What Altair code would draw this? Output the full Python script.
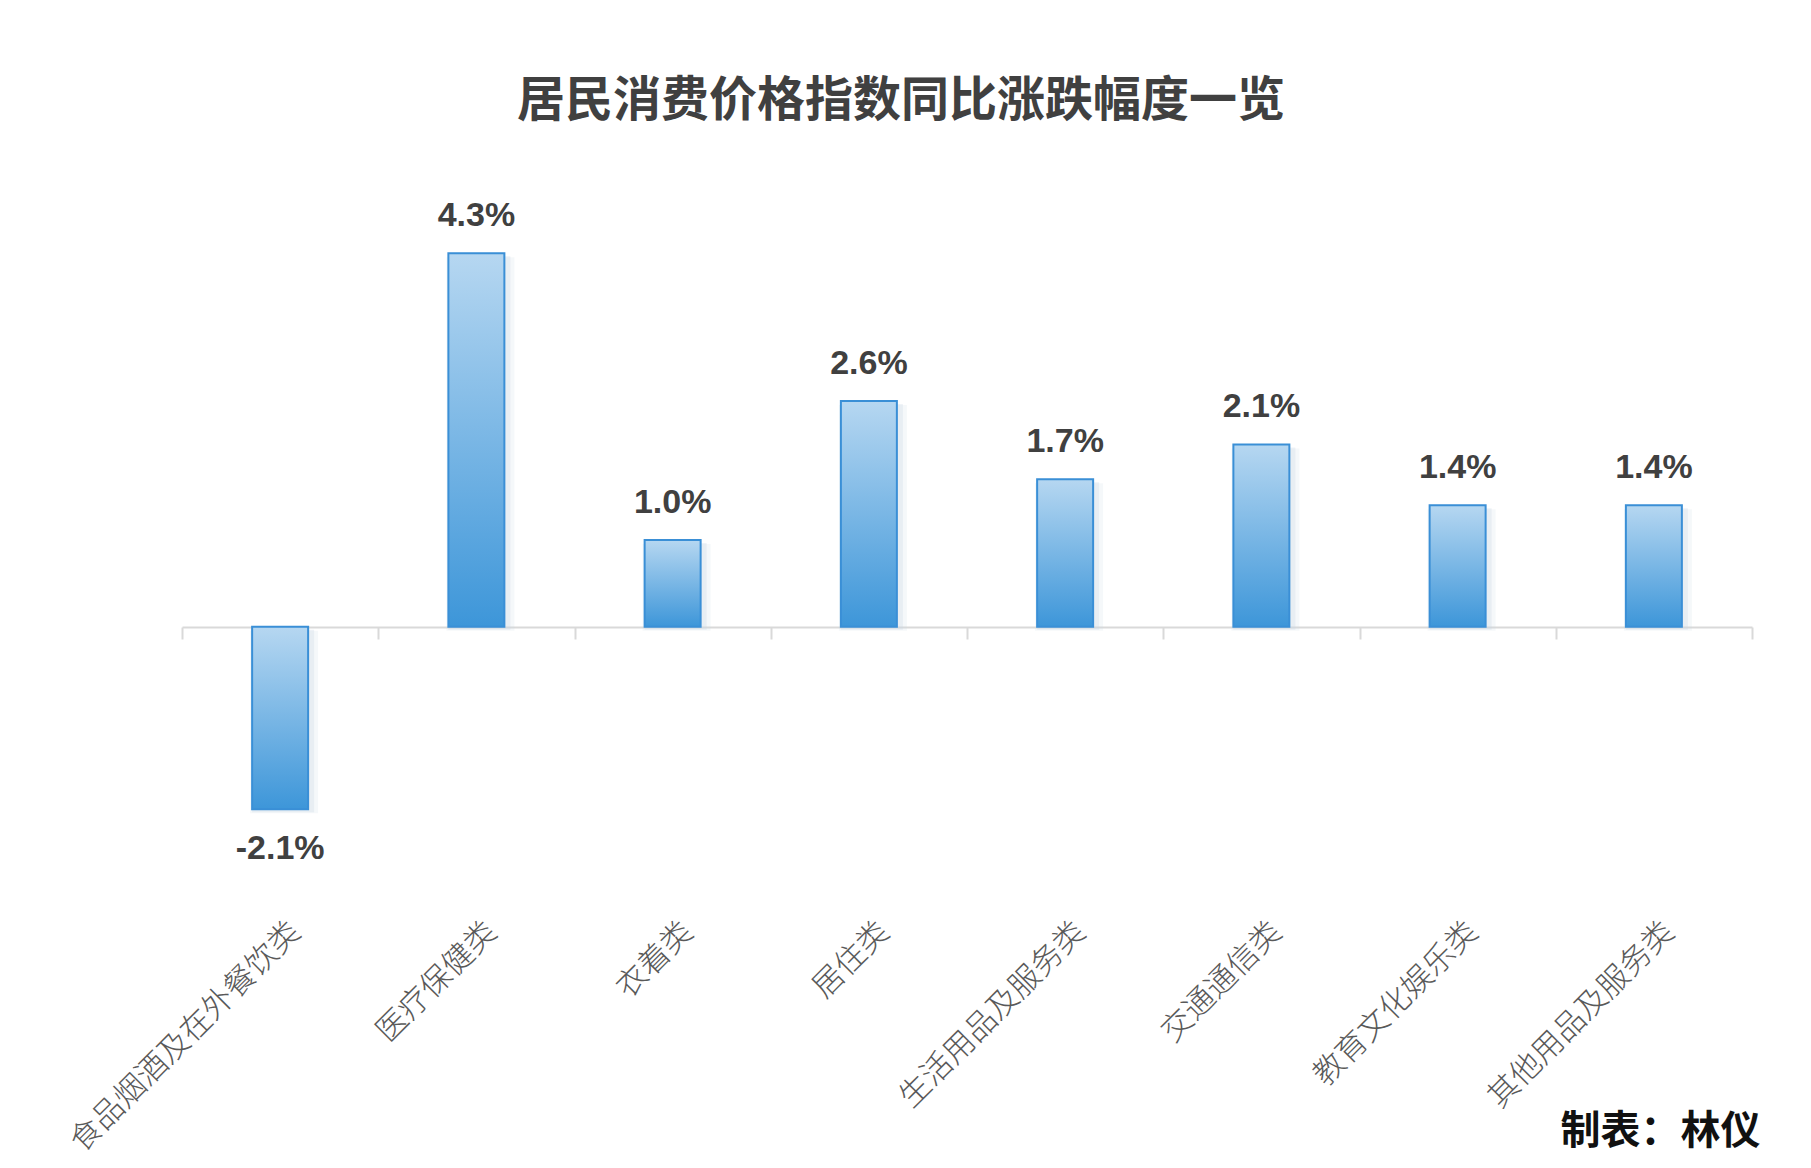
import altair as alt
import pandas as pd

categories = ["食品烟酒及在外餐饮类", "医疗保健类", "衣着类", "居住类",
              "生活用品及服务类", "交通通信类", "教育文化娱乐类", "其他用品及服务类"]
values = [-2.1, 4.3, 1.0, 2.6, 1.7, 2.1, 1.4, 1.4]
title_text = "居民消费价格指数同比涨跌幅度一览"
credit_text = "制表：林仪"

df = pd.DataFrame({"cat": categories, "v": values})

x_enc = alt.X(
    "cat:N", sort=categories,
    scale=alt.Scale(paddingInner=0, paddingOuter=0),
    axis=alt.Axis(
        orient="bottom", offset=-217,
        domainColor="#d9d9d9", domainWidth=2,
        tickColor="#d9d9d9", tickWidth=2, tickSize=12, tickBand="extent",
        labelAngle=-45, labelAlign="right", labelBaseline="middle",
        labelPadding=288, labelLimit=0,
        labelFont="Noto Sans CJK SC", labelFontSize=31, labelFontWeight=300,
        labelColor="#595959", labelOffset=15,
        title=credit_text, titleX=1578, titleY=516, titleAlign="right",
        titleBaseline="alphabetic", titleAngle=0,
        titleFont="Noto Sans CJK SC", titleFontSize=40, titleFontWeight="bold",
        titleColor="#111111",
    ),
)
y_enc = alt.Y("v:Q", scale=alt.Scale(domain=[-2.5, 4.5], nice=False, zero=True), axis=None)

base = alt.Chart(df).encode(x=x_enc, y=y_enc)

shadow_outer = base.mark_bar(size=68, xOffset=4, yOffset=4, color="#c9d6e4", opacity=0.18)
shadow_inner = base.mark_bar(size=62, xOffset=3, yOffset=3, color="#c9d6e4", opacity=0.3)

bars = base.mark_bar(
    size=56,
    color=alt.Gradient(
        gradient="linear",
        stops=[alt.GradientStop(color="#b6d7f1", offset=0),
               alt.GradientStop(color="#3d96d9", offset=1)],
        x1=0, x2=0, y1=0, y2=1,
    ),
    stroke="#3a8fd6", strokeWidth=2,
)

lab = base.transform_calculate(
    label="(datum.v < 0 ? '-' : '') + format(abs(datum.v), '.1f') + '%'"
)
pos_text = lab.transform_filter("datum.v >= 0").mark_text(
    font="Liberation Sans", fontSize=34, fontWeight="bold", color="#404040",
    baseline="alphabetic", dy=-27,
).encode(text="label:N")
neg_text = lab.transform_filter("datum.v < 0").mark_text(
    font="Liberation Sans", fontSize=34, fontWeight="bold", color="#404040",
    baseline="alphabetic", dy=50,
).encode(text="label:N")

chart = alt.layer(shadow_outer, shadow_inner, bars, pos_text, neg_text).properties(
    width=1570, height=608,
    padding={"left": 174, "top": 228, "right": 51, "bottom": 316},
    autosize=alt.AutoSizeParams(type="none"),
    title=alt.Title(title_text, font="Noto Sans CJK SC", fontSize=48, fontWeight="bold",
                    color="#404040", anchor="middle", dx=-66, offset=73),
).configure_view(stroke=None)

chart.save("out.html", embed_options={"renderer": "svg", "actions": False})
